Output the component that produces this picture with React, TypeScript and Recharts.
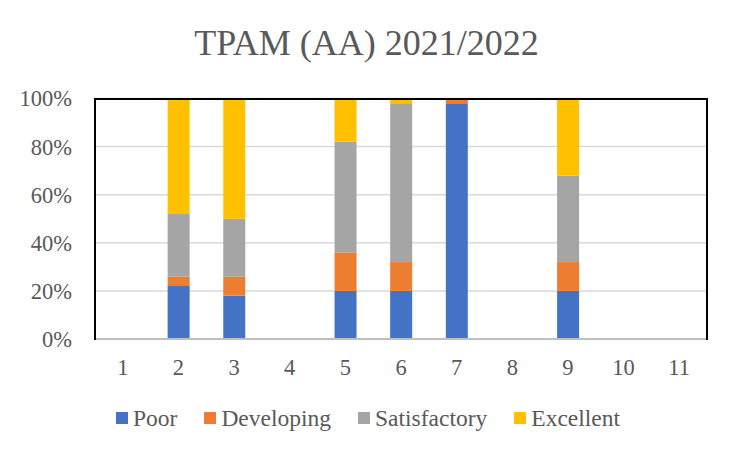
import { BarChart, Bar, XAxis, YAxis, CartesianGrid } from 'recharts';

const categories = ['1', '2', '3', '4', '5', '6', '7', '8', '9', '10', '11'];
const poor = [0, 22, 18, 0, 20, 20, 98, 0, 20, 0, 0];
const developing = [0, 4, 8, 0, 16, 12, 2, 0, 12, 0, 0];
const satisfactory = [0, 26, 24, 0, 46, 66, 0, 0, 36, 0, 0];
const excellent = [0, 48, 50, 0, 18, 2, 0, 0, 32, 0, 0];
const yTicks = [0, 20, 40, 60, 80, 100];

const series = [
  { key: 'poor', label: 'Poor', color: '#4472C4' },
  { key: 'developing', label: 'Developing', color: '#ED7D31' },
  { key: 'satisfactory', label: 'Satisfactory', color: '#A5A5A5' },
  { key: 'excellent', label: 'Excellent', color: '#FFC000' },
];

const data = categories.map((name, i) => ({
  name,
  poor: poor[i],
  developing: developing[i],
  satisfactory: satisfactory[i],
  excellent: excellent[i],
}));

const font = '"Liberation Serif", "DejaVu Serif", "Times New Roman", serif';
const textColor = '#595959';

export default function App() {
  return (
    <div
      style={{
        position: 'relative',
        width: 736,
        height: 455,
        margin: -8,
        background: '#fff',
        boxShadow: 'inset 0 0 0 2px #dedede',
        fontFamily: font,
      }}
    >
      <div
        style={{
          position: 'absolute',
          top: 26,
          left: 0,
          width: 733,
          textAlign: 'center',
          fontSize: 36,
          lineHeight: '35px',
          color: textColor,
          fontFamily: font,
        }}
      >
        TPAM (AA) 2021/2022
      </div>
      <BarChart
        width={736}
        height={455}
        data={data}
        margin={{ top: 98.5, right: 29, bottom: 0, left: 0 }}
        style={{ position: 'absolute', top: 0, left: 0 }}
      >
        <CartesianGrid vertical={false} stroke="#d9d9d9" strokeWidth={1.5} />
        <XAxis
          dataKey="name"
          height={116}
          tickSize={0}
          tickMargin={20}
          axisLine={{ stroke: '#bfbfbf', strokeWidth: 2 }}
          tick={{ fill: textColor, fontSize: 22.5, fontFamily: font }}
        />
        <YAxis
          domain={[0, 100]}
          ticks={yTicks}
          width={95}
          tickSize={0}
          tickMargin={23}
          tickFormatter={(v) => `${v}%`}
          axisLine={{ stroke: '#000', strokeWidth: 2 }}
          tick={{ fill: textColor, fontSize: 22.5, fontFamily: font }}
        />
        {series.map((s) => (
          <Bar key={s.key} dataKey={s.key} name={s.label} stackId="a" fill={s.color} barSize={22}
            isAnimationActive={false} />
        ))}
      </BarChart>
      {/* plot frame: black on top, left and right */}
      <div
        style={{
          position: 'absolute',
          left: 94,
          top: 97.5,
          width: 614,
          height: 242,
          boxSizing: 'border-box',
          borderTop: '2px solid #000',
          borderLeft: '2px solid #000',
          borderRight: '2px solid #000',
          pointerEvents: 'none',
        }}
      />
      <div
        style={{
          position: 'absolute',
          top: 405,
          left: 0,
          width: 736,
          display: 'flex',
          justifyContent: 'center',
          gap: 27,
          fontSize: 23.5,
          lineHeight: '26px',
          color: textColor,
          fontFamily: font,
        }}
      >
        {series.map((s) => (
          <div key={s.key} style={{ display: 'flex', alignItems: 'center' }}>
            <span style={{ width: 12, height: 12, background: s.color, marginRight: 5, display: 'inline-block' }} />
            <span>{s.label}</span>
          </div>
        ))}
      </div>
    </div>
  );
}
